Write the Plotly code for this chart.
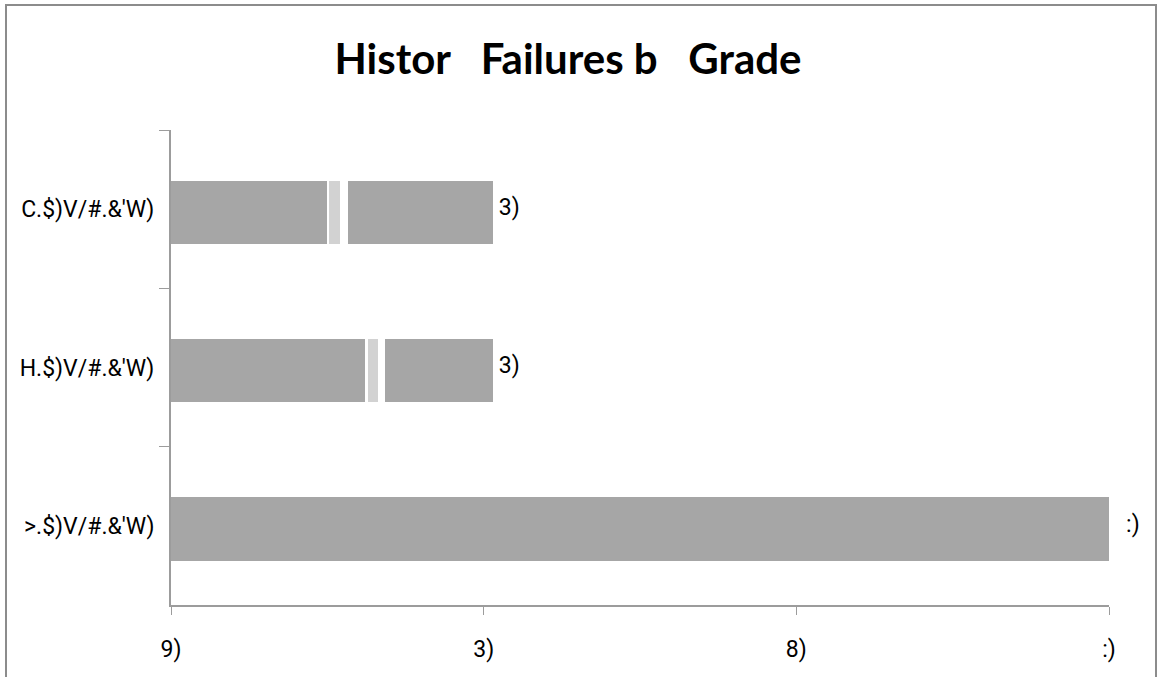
import plotly.graph_objects as go

# Categories, listed top to bottom
categories = ["C.$)V/#.&'W)", "H.$)V/#.&'W)", ">.$)V/#.&'W)"]
totals = [20.6, 20.6, 60.0]
bar_labels = ["3)", "3)", ":)"]

# Visible segments of each bar (rendering gaps in the upper two bars)
seg_dark_a = [10.0, 12.4, 60.0]
seg_gap_a = [0.13, 0.19, 0.0]
seg_light = [0.70, 0.64, 0.0]
seg_gap_b = [0.51, 0.45, 0.0]
seg_dark_b = [9.26, 6.92, 0.0]

tick_vals = [0, 20, 40, 60]
tick_text = ["9)", "3)", "8)", ":)"]

title_text = "Histor   Failures b   Grade"

W, H = 1159, 677
L, R, T, B = 171, 50, 130, 72
pw, ph = W - L - R, H - T - B

BAR = "#A6A6A6"
LIGHT = "#D2D2D2"
AX = "#9C9C9C"
label_font = dict(family="Roboto, Liberation Sans Narrow, sans-serif",
                  size=23, color="#000000")

fig = go.Figure()
segs = [(seg_dark_a, BAR), (seg_gap_a, "#FFFFFF"), (seg_light, LIGHT),
        (seg_gap_b, "#FFFFFF"), (seg_dark_b, BAR)]
for vals, col in segs:
    fig.add_trace(go.Bar(
        x=vals, y=categories, orientation="h", width=0.40, offset=-0.18,
        marker=dict(color=col, line=dict(width=0)),
        showlegend=False, hoverinfo="skip",
    ))

fig.add_trace(go.Scatter(
    x=totals, y=categories, mode="text",
    text=["\u00a0" + t if t != ":)" else "\u00a0\u00a0\u00a0" + t for t in bar_labels],
    textposition="middle right", textfont=label_font,
    showlegend=False, hoverinfo="skip", cliponaxis=False,
))

fig.update_layout(
    width=W, height=H,
    margin=dict(l=L, r=R, t=T, b=B, autoexpand=False),
    paper_bgcolor="white", plot_bgcolor="white",
    barmode="stack", bargap=0.6,
    title=dict(text=title_text, x=568 / W, xanchor="center",
               y=1 - 59 / H, yanchor="middle", yref="container",
               font=dict(family="Lato, Open Sans, sans-serif", size=42, color="#000000",
                         weight="bold")),
    shapes=[dict(type="rect", xref="paper", yref="paper",
                 x0=(6 - L) / pw, x1=(1156 - L) / pw,
                 y0=-(720 - (H - B)) / ph,
                 y1=((H - B) - 5) / ph,
                 line=dict(color="#8C8C8C", width=2), layer="below")],
)

fig.update_xaxes(
    range=[0, 60], tickvals=tick_vals, ticktext=tick_text,
    showgrid=False, zeroline=False, automargin=False,
    showline=True, linecolor=AX, linewidth=2,
    ticks="outside", ticklen=8, tickcolor=AX, tickwidth=1,
    tickfont=label_font, ticklabelstandoff=14,
)
fig.update_yaxes(
    categoryorder="array", categoryarray=categories, autorange="reversed",
    showgrid=False, zeroline=False, automargin=False,
    showline=True, linecolor=AX, linewidth=2,
    ticks="outside", ticklen=10, tickcolor=AX, tickwidth=1,
    tickson="boundaries", tickfont=label_font, ticklabelstandoff=10,
)

fig.write_html("out.html", config={"displayModeBar": False},
               post_script="document.body.style.margin='0';document.body.style.overflow='hidden';")
